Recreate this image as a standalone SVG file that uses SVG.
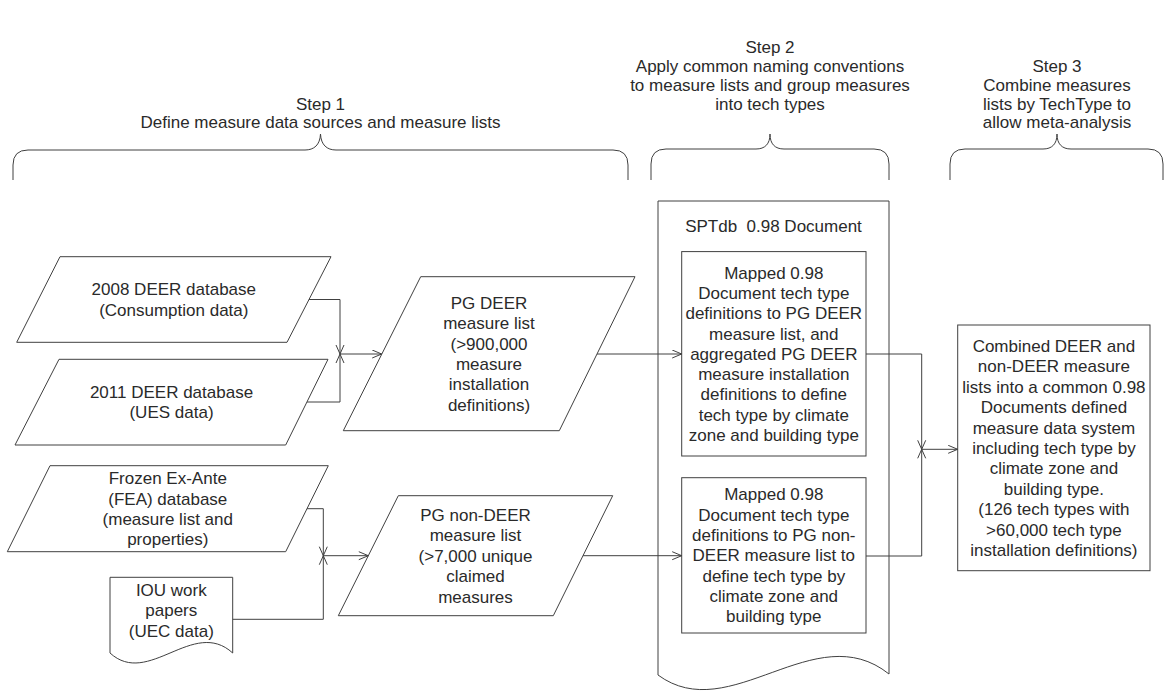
<svg xmlns="http://www.w3.org/2000/svg" width="1165" height="691" viewBox="0 0 1165 691">
<defs>
<style>
.s{fill:#fff;stroke:#404040;stroke-width:1}
.b{fill:none;stroke:#404040;stroke-width:1}
.c{fill:none;stroke:#404040;stroke-width:1}
text{font-family:"Liberation Sans",Arial,sans-serif;font-size:17px;fill:#2a2a2a;text-anchor:middle}
</style>
<marker id="ah" markerWidth="12" markerHeight="10" refX="10" refY="4.5" orient="auto" markerUnits="userSpaceOnUse">
<path d="M0.5,0.5 L10,4.5 L0.5,8.5" fill="none" stroke="#404040" stroke-width="1"/>
</marker>
</defs>
<rect width="1165" height="691" fill="#fff"/>

<g id="step1-header">
<text x="320.5" y="109.5">Step 1</text>
<text x="320.5" y="128">Define measure data sources and measure lists</text>
<path class="b" d="M13,180 V165 Q13,150 28,150 H305 C314,150 320,145 320.5,134 C321,145 327,150 336,150 H613 Q628,150 628,165 V180"/>
</g>
<g id="step2-header">
<text x="770" y="52.5">Step 2</text>
<text x="770" y="71.5">Apply common naming conventions</text>
<text x="770" y="90.5">to measure lists and group measures</text>
<text x="770" y="109.5">into tech types</text>
<path class="b" d="M651,180 V164 Q651,149 666,149 H756 C765,149 770,144 770,134 C770,144 775,149 784,149 H874 Q889,149 889,164 V180"/>
</g>
<g id="step3-header">
<text x="1057" y="71.5">Step 3</text>
<text x="1057" y="90.5">Combine measures</text>
<text x="1057" y="109.5">lists by TechType to</text>
<text x="1057" y="128">allow meta-analysis</text>
<path class="b" d="M950,180 V164 Q950,149 965,149 H1043 C1052,149 1057,144 1057,134 C1057,144 1062,149 1071,149 H1148 Q1163,149 1163,164 V180"/>
</g>

<g id="deer2008">
<polygon class="s" points="60,256.7 331,256.7 287,342.3 16.7,342.3"/>
<text x="173.8" y="295.3">2008 DEER database<tspan x="173.8" dy="20.4">(Consumption data)</tspan></text>
</g>
<g id="deer2011">
<polygon class="s" points="59,359.3 328,359.3 285.7,445 15,445"/>
<text x="171.5" y="398">2011 DEER database<tspan x="171.5" dy="20.4">(UES data)</tspan></text>
</g>
<g id="fea">
<polygon class="s" points="50,465.7 328.3,465.7 285.7,551.7 7.3,551.7"/>
<text x="167.8" y="484.1">Frozen Ex-Ante<tspan x="167.8" dy="20.4">(FEA) database</tspan><tspan x="167.8" dy="20.4">(measure list and</tspan><tspan x="167.8" dy="20.4">properties)</tspan></text>
</g>
<g id="iou">
<path class="s" d="M110,577.3 H232.7 V653 C193.4,617 148.3,688 110,653 Z"/>
<text x="171.3" y="596">IOU work<tspan x="171.3" dy="20.4">papers</tspan><tspan x="171.3" dy="20.4">(UEC data)</tspan></text>
</g>
<g id="pg-deer">
<polygon class="s" points="420.7,276.7 635,276.7 559.3,430.7 343.3,430.7"/>
<text x="489" y="308.7">PG DEER<tspan x="489" dy="20.4">measure list</tspan><tspan x="489" dy="20.4">(&gt;900,000</tspan><tspan x="489" dy="20.4">measure</tspan><tspan x="489" dy="20.4">installation</tspan><tspan x="489" dy="20.4">definitions)</tspan></text>
</g>
<g id="pg-nondeer">
<polygon class="s" points="398.3,495.7 612.7,495.7 553.3,615.7 338.3,615.7"/>
<text x="475.5" y="520.9">PG non-DEER<tspan x="475.5" dy="20.4">measure list</tspan><tspan x="475.5" dy="20.4">(&gt;7,000 unique</tspan><tspan x="475.5" dy="20.4">claimed</tspan><tspan x="475.5" dy="20.4">measures</tspan></text>
</g>
<g id="sptdb">
<path class="s" d="M658,201 H889 V674 C815,615 730,728 658,675 Z"/>
<text x="773.5" y="232" style="white-space:pre" xml:space="preserve">SPTdb  0.98 Document</text>
</g>
<g id="map-deer">
<rect class="s" x="681.7" y="251.6" width="184.3" height="204.4"/>
<text x="773.8" y="278.6">Mapped 0.98<tspan x="773.8" dy="20.3">Document tech type</tspan><tspan x="773.8" dy="20.3">definitions to PG DEER</tspan><tspan x="773.8" dy="20.3">measure list, and</tspan><tspan x="773.8" dy="20.3">aggregated PG DEER</tspan><tspan x="773.8" dy="20.3">measure installation</tspan><tspan x="773.8" dy="20.3">definitions to define</tspan><tspan x="773.8" dy="20.3">tech type by climate</tspan><tspan x="773.8" dy="20.3">zone and building type</tspan></text>
</g>
<g id="map-nondeer">
<rect class="s" x="681.7" y="477.7" width="184.3" height="155.3"/>
<text x="773.8" y="500.4">Mapped 0.98<tspan x="773.8" dy="20.3">Document tech type</tspan><tspan x="773.8" dy="20.3">definitions to PG non-</tspan><tspan x="773.8" dy="20.3">DEER measure list to</tspan><tspan x="773.8" dy="20.3">define tech type by</tspan><tspan x="773.8" dy="20.3">climate zone and</tspan><tspan x="773.8" dy="20.3">building type</tspan></text>
</g>
<g id="combined">
<rect class="s" x="957.7" y="325" width="192.3" height="245.7"/>
<text x="1053.9" y="351.9">Combined DEER and<tspan x="1053.9" dy="20.4">non-DEER measure</tspan><tspan x="1053.9" dy="20.4">lists into a common 0.98</tspan><tspan x="1053.9" dy="20.4">Documents defined</tspan><tspan x="1053.9" dy="20.4">measure data system</tspan><tspan x="1053.9" dy="20.4">including tech type by</tspan><tspan x="1053.9" dy="20.4">climate zone and</tspan><tspan x="1053.9" dy="20.4">building type.</tspan><tspan x="1053.9" dy="20.4">(126 tech types with</tspan><tspan x="1053.9" dy="20.4">&gt;60,000 tech type</tspan><tspan x="1053.9" dy="20.4">installation definitions)</tspan></text>
</g>

<g id="connectors">
<path class="c" d="M309,299.5 H340 V354"/>
<path class="c" d="M307,402 H340 V354"/>
<path class="c" d="M336,345 L344,363 M344,345 L336,363"/>
<path class="c" d="M340,354 H381.7" marker-end="url(#ah)"/>
<path class="c" d="M307,508.7 H323.3 V555.7"/>
<path class="c" d="M232.7,619.3 H323.3 V555.7"/>
<path class="c" d="M319.3,546.7 L327.3,564.7 M327.3,546.7 L319.3,564.7"/>
<path class="c" d="M323.3,555.7 H368.3" marker-end="url(#ah)"/>
<path class="c" d="M597,354 H681.7" marker-end="url(#ah)"/>
<path class="c" d="M583,555.7 H681.7" marker-end="url(#ah)"/>
<path class="c" d="M866,354 H921.7 V449.3"/>
<path class="c" d="M866,556 H921.7 V449.3"/>
<path class="c" d="M917.7,440.3 L925.7,458.3 M925.7,440.3 L917.7,458.3"/>
<path class="c" d="M921.7,449.3 H957.7" marker-end="url(#ah)"/>
</g>
</svg>
